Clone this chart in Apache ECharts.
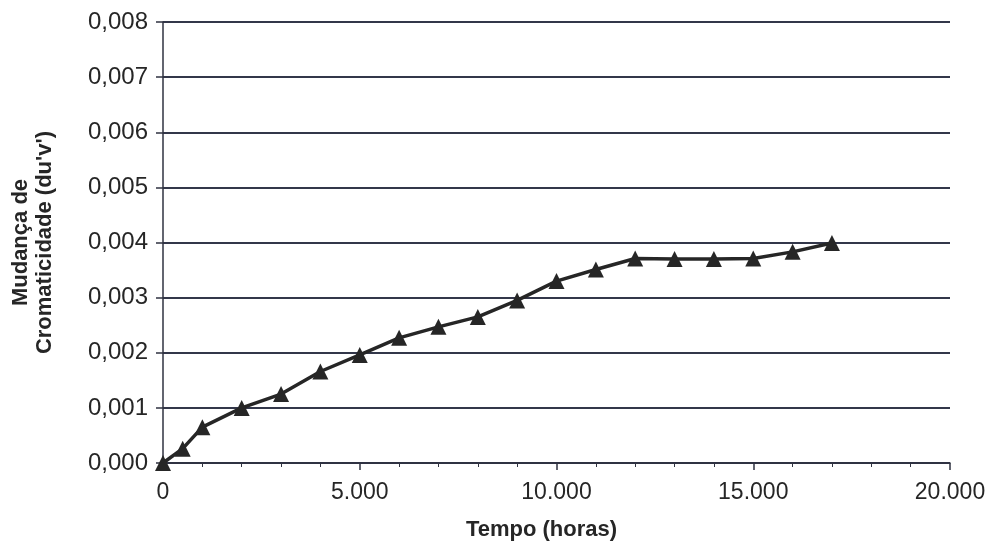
<!DOCTYPE html>
<html>
<head>
<meta charset="utf-8">
<script src="https://cdn.jsdelivr.net/npm/echarts@6/dist/echarts.min.js"></script>
<style>
  html, body { margin: 0; padding: 0; background: #fff; }
  #main { width: 989px; height: 546px; }
</style>
</head>
<body>
<div id="main"></div>
<script>
// tempo (horas) e mudança de cromaticidade (du'v')
var tempo = [0, 500, 1000, 2000, 3000, 4000, 5000, 6000, 7000, 8000, 9000, 10000, 11000, 12000, 13000, 14000, 15000, 16000, 17000];
var duv = [0, 0.00026, 0.00065, 0.001, 0.00125, 0.00166, 0.00196, 0.00227, 0.00247, 0.00265, 0.00295, 0.0033, 0.00351, 0.00371, 0.0037, 0.0037, 0.00371, 0.00383, 0.00399];

var chart = echarts.init(document.getElementById('main'));
var font = 'Liberation Sans, Arial, sans-serif';
var dark = '#2f3240';
var txt = '#262626';

chart.setOption({
  backgroundColor: '#fff',
  animation: false,
  grid: { left: 163, right: 39, top: 22, bottom: 83 },
  xAxis: {
    type: 'value',
    min: 0, max: 20000, interval: 5000,
    name: 'Tempo (horas)',
    nameLocation: 'middle',
    nameGap: 56,
    nameTextStyle: { fontFamily: font, fontSize: 22, fontWeight: 'bold', color: txt, padding: [0, 30, 0, 0] },
    axisLine: { lineStyle: { color: dark, width: 1.5 } },
    axisTick: { show: true, length: 7, lineStyle: { color: dark, width: 1.5 } },
    minorTick: { show: true, splitNumber: 5, length: 4, lineStyle: { color: dark } },
    splitLine: { show: false },
    axisLabel: {
      fontFamily: font, fontSize: 23, color: txt, margin: 18,
      formatter: function (v) { return v.toLocaleString('de-DE'); }
    }
  },
  yAxis: {
    type: 'value',
    min: 0, max: 0.008, interval: 0.001,
    name: 'Mudança de\nCromaticidade (du\'v\')',
    nameLocation: 'middle',
    nameGap: 106,
    nameRotate: 90,
    nameTextStyle: { fontFamily: font, fontSize: 22, fontWeight: 'bold', color: txt, lineHeight: 24, padding: [0, 0, 0, 0] },
    axisLine: { show: true, lineStyle: { color: dark, width: 1.5 } },
    axisTick: { show: true, length: 7, lineStyle: { color: dark, width: 1.5 } },
    splitLine: { show: true, lineStyle: { color: '#33374a', width: 2 } },
    axisLabel: {
      fontFamily: font, fontSize: 24, color: txt, margin: 15,
      formatter: function (v) { return v.toFixed(3).replace('.', ','); }
    }
  },
  series: [{
    type: 'line',
    data: tempo.map(function (t, i) { return [t, duv[i]]; }),
    symbol: 'triangle',
    symbolSize: 16,
    lineStyle: { color: '#262626', width: 3.5 },
    itemStyle: { color: '#262626', borderWidth: 0 }
  }]
});
</script>
</body>
</html>
